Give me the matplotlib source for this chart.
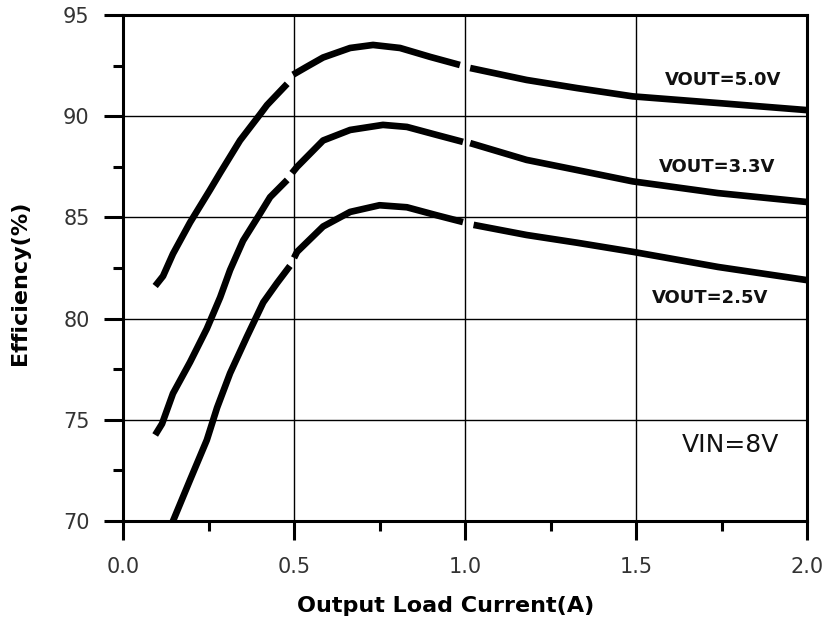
import numpy as np
import matplotlib
matplotlib.use('Agg')
import matplotlib.pyplot as plt
from matplotlib.ticker import MultipleLocator

plt.rcParams['font.family'] = ['DejaVu Sans']

# Efficiency curves (nan = small break in the printed trace)
x_50 = [0.094, 0.117, 0.146, 0.196, 0.254, 0.284, 0.342, 0.401, 0.421, 0.480, np.nan,
        0.497, 0.538, 0.585, 0.664, 0.731, 0.81, 0.898, 0.985, np.nan,
        1.015, 1.18, 1.327, 1.49, 1.74, 2.0]
y_50 = [81.61, 82.1, 83.2, 84.75, 86.35, 87.2, 88.8, 90.1, 90.55, 91.6, np.nan,
        92.05, 92.45, 92.9, 93.37, 93.52, 93.37, 92.93, 92.53, np.nan,
        92.38, 91.79, 91.39, 90.98, 90.65, 90.3]

x_33 = [0.094, 0.114, 0.146, 0.196, 0.245, 0.284, 0.313, 0.351, 0.401, 0.43, 0.48, np.nan,
        0.494, 0.509, 0.585, 0.664, 0.76, 0.83, 0.918, 0.994, np.nan,
        1.015, 1.18, 1.327, 1.49, 1.74, 2.0]
y_33 = [74.25, 74.8, 76.3, 77.85, 79.5, 81.05, 82.4, 83.85, 85.2, 86.0, 86.85, np.nan,
        87.19, 87.5, 88.8, 89.32, 89.57, 89.47, 89.07, 88.73, np.nan,
        88.67, 87.84, 87.34, 86.78, 86.2, 85.76]

x_25 = [0.14, 0.196, 0.245, 0.275, 0.313, 0.362, 0.41, 0.45, 0.488, np.nan,
        0.5, 0.509, 0.585, 0.664, 0.75, 0.83, 0.918, 0.994, np.nan,
        1.025, 1.18, 1.327, 1.49, 1.74, 2.0]
y_25 = [69.75, 72.03, 74.0, 75.6, 77.3, 79.1, 80.8, 81.75, 82.6, np.nan,
        83.0, 83.3, 84.55, 85.27, 85.6, 85.5, 85.1, 84.77, np.nan,
        84.63, 84.13, 83.75, 83.3, 82.55, 81.9]

curve_labels = ['VOUT=5.0V', 'VOUT=3.3V', 'VOUT=2.5V']
label_pos = [(1.755, 91.8), (1.737, 87.5), (1.716, 81.0)]

fig = plt.figure(figsize=(8.23, 6.22), dpi=100)
ax = fig.add_axes([0.1495, 0.1624, 0.8311, 0.8135])

for xs, ys in [(x_50, y_50), (x_33, y_33), (x_25, y_25)]:
    ax.plot(xs, ys, color='black', lw=4.8, solid_capstyle='butt',
            solid_joinstyle='round')

for txt, (tx, ty) in zip(curve_labels, label_pos):
    ax.text(tx, ty, txt, ha='center', va='center', fontsize=13,
            fontweight='bold', color='#111')

ax.text(1.775, 73.75, 'VIN=8V', ha='center', va='center', fontsize=18, color='#111')

ax.set_xlim(0, 2.0)
ax.set_ylim(70, 95)
ax.xaxis.set_major_locator(MultipleLocator(0.5))
ax.xaxis.set_minor_locator(MultipleLocator(0.25))
ax.yaxis.set_major_locator(MultipleLocator(5))
ax.yaxis.set_minor_locator(MultipleLocator(2.5))
ax.xaxis.set_major_formatter(plt.FuncFormatter(lambda v, p: f'{v:.1f}'))

ax.grid(True, which='major', color='black', lw=1.0)
for s in ax.spines.values():
    s.set_linewidth(2.2)

ax.tick_params(which='major', direction='out', length=14, width=2.2,
               labelsize=15, labelcolor='#333')
ax.tick_params(axis='y', which='major', pad=10)
ax.tick_params(axis='x', which='major', pad=12)
ax.tick_params(which='minor', direction='out', length=7, width=2.2)

fig.text(0.542, 0.026, 'Output Load Current(A)', ha='center', va='center',
         fontsize=16, fontweight='bold')
fig.text(0.0243, 0.545, 'Efficiency(%)', ha='center', va='center',
         rotation=90, fontsize=16, fontweight='bold')

fig.savefig('out.png', dpi=100, facecolor='white')
